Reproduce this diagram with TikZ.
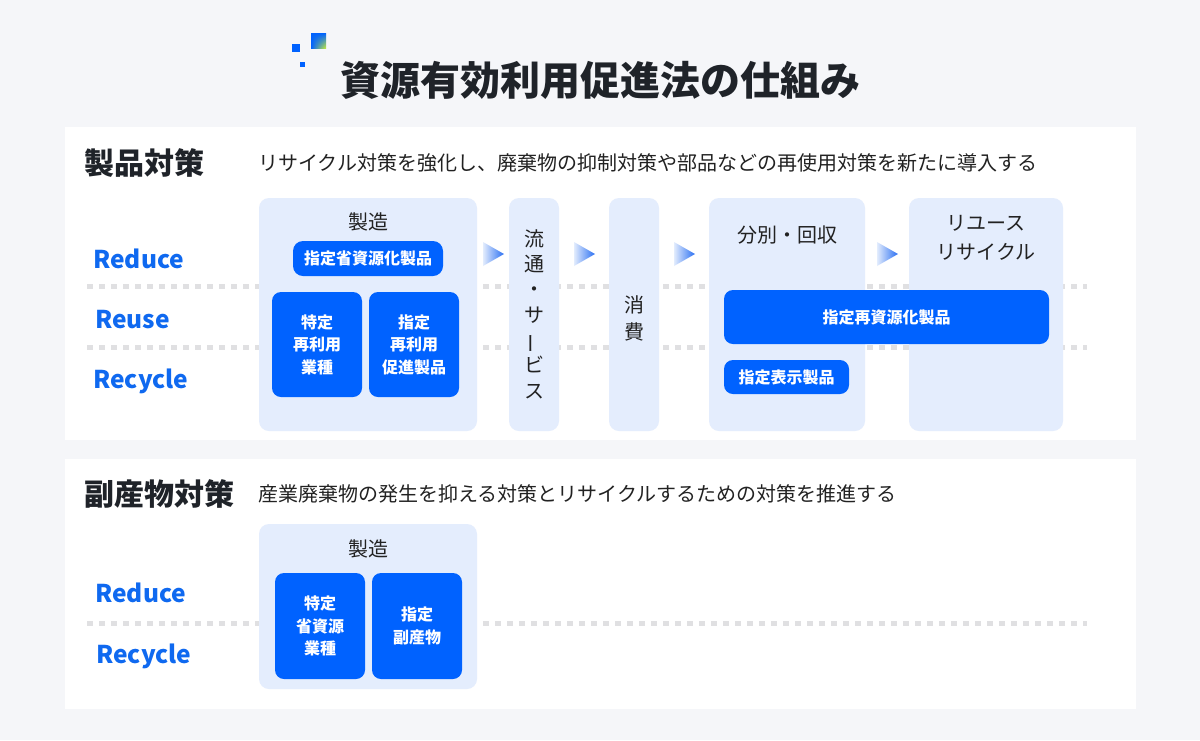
\documentclass[tikz,border=0pt]{standalone}
\usepackage{fontspec}
\setmainfont{Noto Sans CJK JP}
\usetikzlibrary{calc,shadings}
\definecolor{bg}{HTML}{F5F6F9}
\definecolor{lightbox}{HTML}{E4EDFD}
\definecolor{darkblue}{HTML}{0062FF}
\definecolor{labelblue}{HTML}{0F69F0}
\definecolor{ink}{HTML}{1F2329}
\definecolor{bodyink}{HTML}{222222}
\definecolor{dotgray}{HTML}{E0E0E2}
\definecolor{arrowlight}{HTML}{E2ECFD}
\definecolor{arrowblue}{HTML}{2A6FF2}
\definecolor{lime}{HTML}{C4EC3A}

\begin{document}
\begin{tikzpicture}[x=1pt,y=-1pt,
  panel/.style={fill=white, draw=none, inner sep=0pt},
  stagebox/.style={fill=lightbox, draw=none, rounded corners=10pt, inner sep=0pt},
  darkbox/.style={fill=darkblue, draw=none, rounded corners=9pt, inner sep=0pt,
    text=white, align=center, font=\fontsize{16}{22.5}\selectfont\bfseries},
  rlabel/.style={text=labelblue, anchor=base west, inner sep=0pt, font=\fontsize{24.5}{28}\selectfont\bfseries},
  heading/.style={text=ink, anchor=west, inner sep=0pt, font=\fontsize{30}{34}\selectfont\bfseries},
  subtext/.style={text=bodyink, anchor=west, inner sep=0pt, font=\fontsize{20}{24}\selectfont},
  stagetext/.style={text=bodyink, inner sep=0pt, align=center, font=\fontsize{20}{29}\selectfont},
  dotline/.style={dotgray, line width=5pt, dash pattern=on 6pt off 6pt},
  flowtri/.style={left color=arrowlight, right color=arrowblue, draw=none}
]
% background and bounding box
\fill[bg] (0,0) rectangle (1200,740);
\useasboundingbox (0,0) rectangle (1200,740);

% logo
\fill[darkblue] (292,44) rectangle (300,52);
\shade[upper left=darkblue, upper right=darkblue, lower left=darkblue, lower right=lime] (311,33) rectangle (326,48);
\fill[darkblue] (300,62) rectangle (305,67);

% title
\node[text=ink, inner sep=0pt, font=\fontsize{40}{44}\selectfont\bfseries] (title) at (600,80) {資源有効利用促進法の仕組み};

% panels
\node[panel, minimum width=1071pt, minimum height=313pt] (p1) at (600.5,283.5) {};
\node[panel, minimum width=1071pt, minimum height=250pt] (p2) at (600.5,584) {};

% headings
\node[heading] (h1) at (84,163) {製品対策};
\node[subtext] (s1) at (258,163) {リサイクル対策を強化し、廃棄物の抑制対策や部品などの再使用対策を新たに導入する};
\node[heading] (h2) at (84,494) {副産物対策};
\node[subtext] (s2) at (258,494) {産業廃棄物の発生を抑える対策とリサイクルするための対策を推進する};

% dotted separators
\draw[dotline] (87,286.5) -- (1087,286.5);
\draw[dotline] (87,347.5) -- (1087,347.5);
\draw[dotline] (87,623) -- (1087,623);

% R labels panel 1
\node[rlabel] (reduce1) at (93,268) {Reduce};
\node[rlabel] (reuse1) at (95,328) {Reuse};
\node[rlabel] (recycle1) at (93,388) {Recycle};
% R labels panel 2
\node[rlabel] (reduce2) at (95,602) {Reduce};
\node[rlabel] (recycle2) at (96,663) {Recycle};

% stage boxes panel 1
\node[stagebox, minimum width=218pt, minimum height=233pt] (mfg) at (368,314.5) {};
\node[stagebox, minimum width=50pt, minimum height=233pt] (dist) at (534,314.5) {};
\node[stagebox, minimum width=50pt, minimum height=233pt] (cons) at (634,314.5) {};
\node[stagebox, minimum width=156pt, minimum height=233pt] (sort) at (787,314.5) {};
\node[stagebox, minimum width=154pt, minimum height=233pt] (reuse) at (986,314.5) {};

% stage texts
\node[stagetext] (mfgt) at (368,222) {製造};
\node[stagetext, font=\fontsize{20}{25.3}\selectfont] (distt) at (534,314) {流\\通\\・\\サ\\\rotatebox[origin=c]{90}{ー}\\ビ\\ス};
\node[stagetext, font=\fontsize{20}{27}\selectfont] (const) at (634,318.5) {消\\費};
\node[stagetext] (sortt) at (787,235) {分別・回収};
\node[stagetext] (reuset) at (986,237.5) {リユース\\リサイクル};

% flow arrows
\foreach \a/\b in {mfg/dist, dist/cons, cons/sort, sort/reuse}{
  \coordinate (m) at ($(\a.east)!0.5!(\b.west)$);
  \shade[flowtri] (m |- 0,242) ++(-10,0) -- ++(21,12) -- ++(-21,12) -- cycle;
}

% dark boxes panel 1
\node[darkbox, minimum width=150pt, minimum height=35pt, rounded corners=10pt] (sho) at (368,258.5) {指定省資源化製品};
\node[darkbox, minimum width=90pt, minimum height=105pt] (tokutei1) at (317,344.5) {特定\\再利用\\業種};
\node[darkbox, minimum width=90pt, minimum height=105pt] (shitei1) at (414,344.5) {指定\\再利用\\促進製品};
\node[darkbox, minimum width=325pt, minimum height=54pt] (saishigen) at (886.5,317) {指定再資源化製品};
\node[darkbox, minimum width=125pt, minimum height=34pt] (hyoji) at (786.5,377) {指定表示製品};

% panel 2
\node[stagebox, minimum width=218pt, minimum height=165pt] (mfg2) at (368,606.5) {};
\node[stagetext] (mfg2t) at (368,549) {製造};
\node[darkbox, minimum width=90pt, minimum height=106pt] (tokutei2) at (320,626) {特定\\省資源\\業種};
\node[darkbox, minimum width=90pt, minimum height=106pt] (fuku) at (417,626) {指定\\副産物};
\end{tikzpicture}
\end{document}
